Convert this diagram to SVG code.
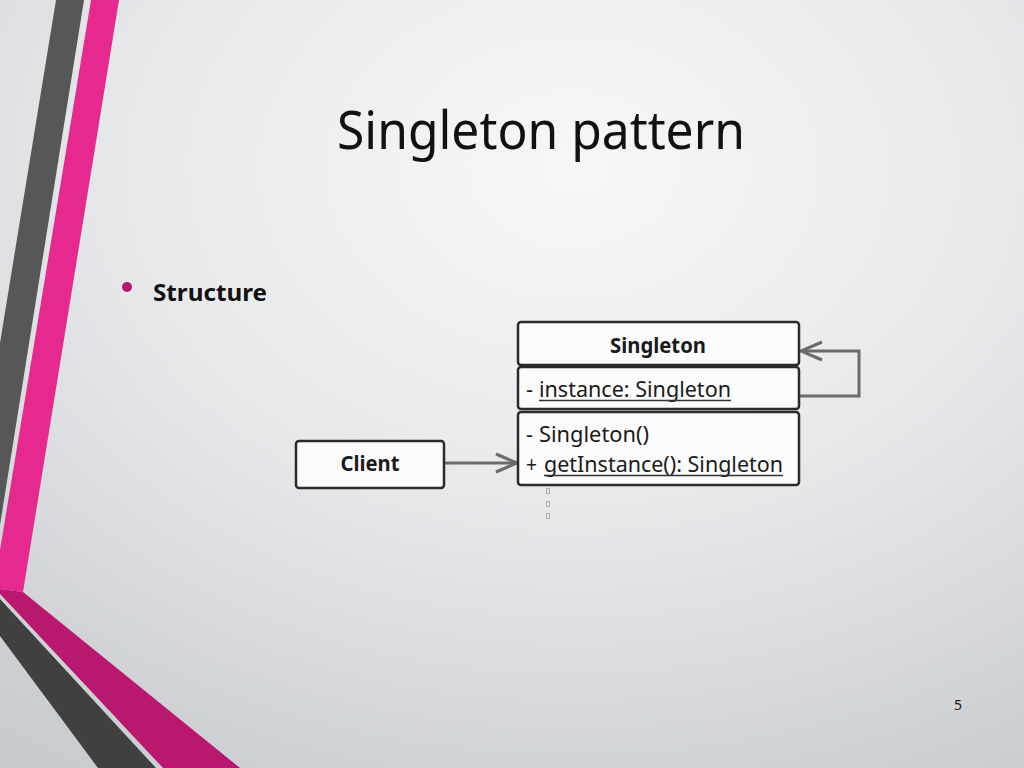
<svg xmlns="http://www.w3.org/2000/svg" width="1024" height="768" viewBox="0 0 1024 768">
  <defs>
    <radialGradient id="bg" cx="0.56" cy="0.22" r="0.95" gradientUnits="objectBoundingBox">
      <stop offset="0" stop-color="#f7f7f8"/>
      <stop offset="0.45" stop-color="#e8e9eb"/>
      <stop offset="1" stop-color="#c6c9cd"/>
    </radialGradient>
    <marker id="open" viewBox="0 0 24 24" refX="22" refY="12" markerWidth="24" markerHeight="24" markerUnits="userSpaceOnUse" orient="auto">
      <path d="M1,3 L22,12 L1,21" fill="none" stroke="#6b6b6b" stroke-width="3" stroke-linejoin="miter"/>
    </marker>
    <style>
      .box { fill: #fbfbfb; stroke: #2b2b2b; stroke-width: 2.5; }
      .edge { fill: none; stroke: #6b6b6b; stroke-width: 3; }
      .uml { font-family: "Noto Sans", "Open Sans", "DejaVu Sans", sans-serif; font-size: 21px; fill: #1a1a1a; }
      .umlb { font-family: "Noto Sans", "Open Sans", "DejaVu Sans", sans-serif; font-size: 21px; font-weight: bold; fill: #1a1a1a; }
      .ul { stroke: #333; stroke-width: 1.3; }
      .dot { fill: none; stroke: #b0b0b0; stroke-width: 1; }
    </style>
  </defs>

  <rect x="0" y="0" width="1024" height="768" fill="url(#bg)"/>

  <g id="decoration">
    <polygon points="56,0 84,0 0,525 0,343" fill="#575757"/>
    <polygon points="91,0 119,0 23,592 0,589 0,550" fill="#e6298f"/>
    <polygon points="0,589 23,592 240,768 163,768 0,594" fill="#b9186f"/>
    <polygon points="0,599 156,768 98,768 0,636" fill="#404040"/>
  </g>

  <text x="541" y="149" text-anchor="middle" font-family="Noto Sans, Open Sans, sans-serif" font-size="52" fill="#111" textLength="408" lengthAdjust="spacingAndGlyphs">Singleton pattern</text>

  <circle cx="127" cy="287" r="5" fill="#b5166f"/>
  <text x="153" y="301" font-family="Noto Sans, Open Sans, sans-serif" font-size="24" font-weight="bold" fill="#111" textLength="114" lengthAdjust="spacingAndGlyphs">Structure</text>

  <g id="connectors">
    <line class="edge" x1="444" y1="463" x2="517" y2="463" marker-end="url(#open)"/>
    <polyline class="edge" points="799,396 859,396 859,351 801,351" marker-end="url(#open)"/>
  </g>

  <g id="singleton">
    <rect class="box" x="518" y="322" width="281" height="43" rx="3"/>
    <text class="umlb" x="658" y="353" text-anchor="middle" textLength="96" lengthAdjust="spacingAndGlyphs">Singleton</text>
    <rect class="box" x="518" y="367" width="281" height="42" rx="3"/>
    <text class="uml" x="526" y="397" textLength="7" lengthAdjust="spacingAndGlyphs">-</text>
    <text class="uml" x="539" y="397" textLength="192" lengthAdjust="spacingAndGlyphs">instance: Singleton</text>
    <line class="ul" x1="539" y1="400.5" x2="731" y2="400.5"/>
    <rect class="box" x="518" y="412" width="281" height="73" rx="3"/>
    <text class="uml" x="526" y="442" textLength="7" lengthAdjust="spacingAndGlyphs">-</text>
    <text class="uml" x="539" y="442" textLength="110" lengthAdjust="spacingAndGlyphs">Singleton()</text>
    <text class="uml" x="526" y="472" textLength="11" lengthAdjust="spacingAndGlyphs">+</text>
    <text class="uml" x="544" y="472" textLength="239" lengthAdjust="spacingAndGlyphs">getInstance(): Singleton</text>
    <line class="ul" x1="544" y1="475.5" x2="783" y2="475.5"/>
  </g>

  <g id="client">
    <rect class="box" x="296" y="441" width="148" height="47" rx="3"/>
    <text class="umlb" x="370" y="471" text-anchor="middle" textLength="59" lengthAdjust="spacingAndGlyphs">Client</text>
  </g>

  <g id="marks">
    <rect class="dot" x="546.5" y="488.5" width="3" height="5"/>
    <rect class="dot" x="546.5" y="501.5" width="3" height="5"/>
    <rect class="dot" x="546.5" y="513.5" width="3" height="5"/>
  </g>

  <text x="958" y="710" text-anchor="middle" font-family="Noto Sans, Open Sans, sans-serif" font-size="14" fill="#222">5</text>
</svg>
